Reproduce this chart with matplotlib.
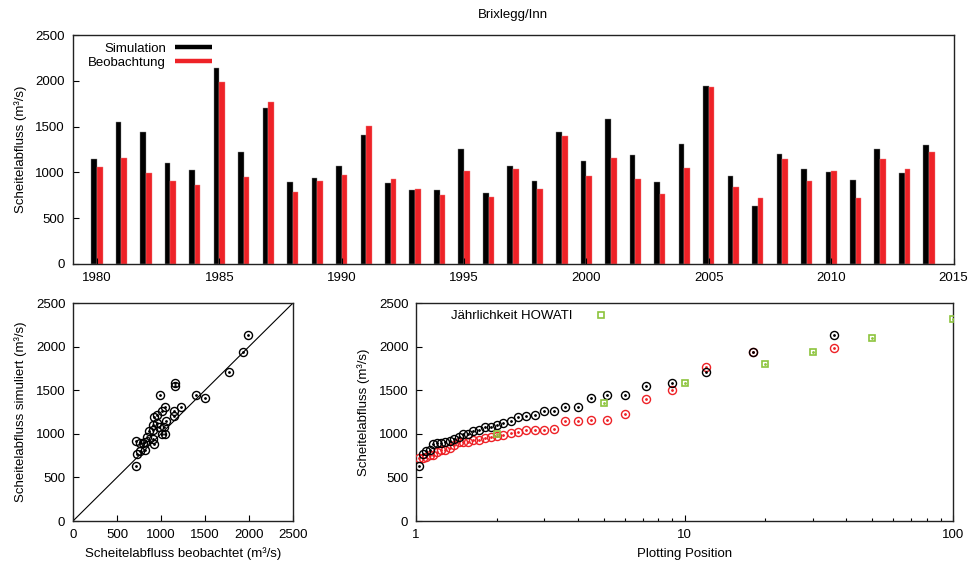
import numpy as np
import matplotlib
matplotlib.use("Agg")
import matplotlib.pyplot as plt
from matplotlib.lines import Line2D

plt.rcParams['font.family'] = ['Liberation Sans', 'DejaVu Sans']
plt.rcParams['font.size'] = 9.5

years = list(range(1980, 2015))
sim = [1144, 1552, 1446, 1104, 1027, 2138, 1220, 1705, 900, 936,
       1075, 1413, 882, 809, 805, 1257, 772, 1075, 907, 1446,
       1122, 1581, 1188, 893, 1308, 1938, 962, 630, 1202, 1038,
       1002, 914, 1257, 998, 1304]
obs = [1056, 1162, 991, 911, 867, 1985, 954, 1770, 790, 907,
       973, 1505, 925, 816, 758, 1016, 729, 1038, 816, 1399,
       958, 1155, 925, 761, 1046, 1934, 842, 718, 1148, 907,
       1013, 721, 1148, 1042, 1224]
howati_T = [2, 5, 10, 20, 30, 50, 100]
howati_Q = [1000, 1350, 1580, 1800, 1935, 2100, 2320]

BLACK = '#000000'
RED = '#ee2227'
GREEN = '#8cc43c'
ylab = 'Scheitelabfluss (m³/s)'

fig = plt.figure(figsize=(9.68, 5.66), dpi=100)
W, H = 968.0, 566.0


def axes_px(l, r, t, b):
    return fig.add_axes([l / W, (H - b) / H, (r - l) / W, (b - t) / H])


def style(ax):
    ax.tick_params(direction='in', length=4, width=0.8, pad=5.5,
                   top=False, right=False)
    ax.tick_params(which='minor', direction='in', length=2.5, width=0.8,
                   top=False, right=False)
    for s in ax.spines.values():
        s.set_linewidth(1.0)
        s.set_color('#222222')


# ---------- top: annual peak bars ----------
ax1 = axes_px(72.5, 953.5, 35, 264)
yrs = np.array(years)
bw = 0.23
ax1.bar(yrs - bw, sim, width=bw, align='edge', color=BLACK,
        edgecolor='#888888', linewidth=0.3, label='Simulation')
ax1.bar(yrs, obs, width=bw, align='edge', color=RED,
        edgecolor='#f08080', linewidth=0.3, label='Beobachtung')
ax1.set_xlim(1979, 2015)
ax1.set_ylim(0, 2500)
ax1.set_xticks(range(1980, 2016, 5))
ax1.set_yticks(range(0, 2501, 500))
ax1.set_ylabel(ylab, labelpad=6)
ax1.set_title('Brixlegg/Inn', pad=12, fontsize=9.5)
style(ax1)
handles = [Line2D([], [], color=BLACK, lw=3.2, solid_capstyle='butt'),
           Line2D([], [], color=RED, lw=3.2, solid_capstyle='butt')]
ax1.legend(handles, ['Simulation', 'Beobachtung'], loc='upper left',
           bbox_to_anchor=(0.018, 0.968), frameon=False, markerfirst=False,
           handlelength=2.8, handletextpad=0.7, labelspacing=0.16,
           borderpad=0, borderaxespad=0, fontsize=9.5)

# ---------- bottom left: scatter ----------
ax2 = axes_px(73, 293, 303, 521)
ax2.plot([0, 2500], [0, 2500], color='black', lw=0.8, zorder=1)
ax2.plot(obs, sim, 'o', mfc='none', mec='black', ms=5.8, mew=1.0, zorder=3)
ax2.plot(obs, sim, '.', color='black', ms=2, zorder=3)
ax2.set_xlim(0, 2500)
ax2.set_ylim(0, 2500)
ax2.set_xticks(range(0, 2501, 500))
ax2.set_yticks(range(0, 2501, 500))
ax2.set_xlabel('Scheitelabfluss beobachtet (m³/s)', labelpad=5)
ax2.set_ylabel('Scheitelabfluss simuliert (m³/s)', labelpad=6)
style(ax2)

# ---------- bottom right: plotting positions ----------
ax3 = axes_px(416, 953, 303, 521)
n = len(sim)
sim_sorted = np.sort(sim)[::-1]
obs_sorted = np.sort(obs)[::-1]
T = (n + 1) / np.arange(1, n + 1)
ax3.plot(T, obs_sorted, 'o', mfc='none', mec=RED, ms=5.8, mew=1.0, zorder=3)
ax3.plot(T, obs_sorted, '.', color=RED, ms=2, zorder=3)
ax3.plot(T, sim_sorted, 'o', mfc='none', mec=BLACK, ms=5.8, mew=1.0, zorder=4)
ax3.plot(T, sim_sorted, '.', color=BLACK, ms=2, zorder=4)
ax3.plot(howati_T, howati_Q, 's', mfc='none', mec=GREEN, ms=5, mew=1.2, zorder=5)
ax3.plot(howati_T, howati_Q, '.', color=GREEN, ms=2, zorder=5)
ax3.set_xscale('log')
ax3.set_xlim(1, 100)
ax3.set_ylim(0, 2500)
ax3.set_yticks(range(0, 2501, 500))
ax3.set_xticks([1, 10, 100])
ax3.set_xticklabels(['1', '10', '100'])
ax3.set_xlabel('Plotting Position', labelpad=5)
ax3.set_ylabel(ylab, labelpad=6)
style(ax3)
hw = Line2D([], [], ls='none', marker='s', mfc='none', mec=GREEN, ms=5, mew=1.2)
ax3.legend([hw], ['Jährlichkeit HOWATI'], loc='upper left',
           bbox_to_anchor=(0.066, 0.967), frameon=False, markerfirst=False,
           handlelength=2.8, handletextpad=0.7, borderpad=0,
           borderaxespad=0, fontsize=9.5)

fig.savefig('out.png', dpi=100)
